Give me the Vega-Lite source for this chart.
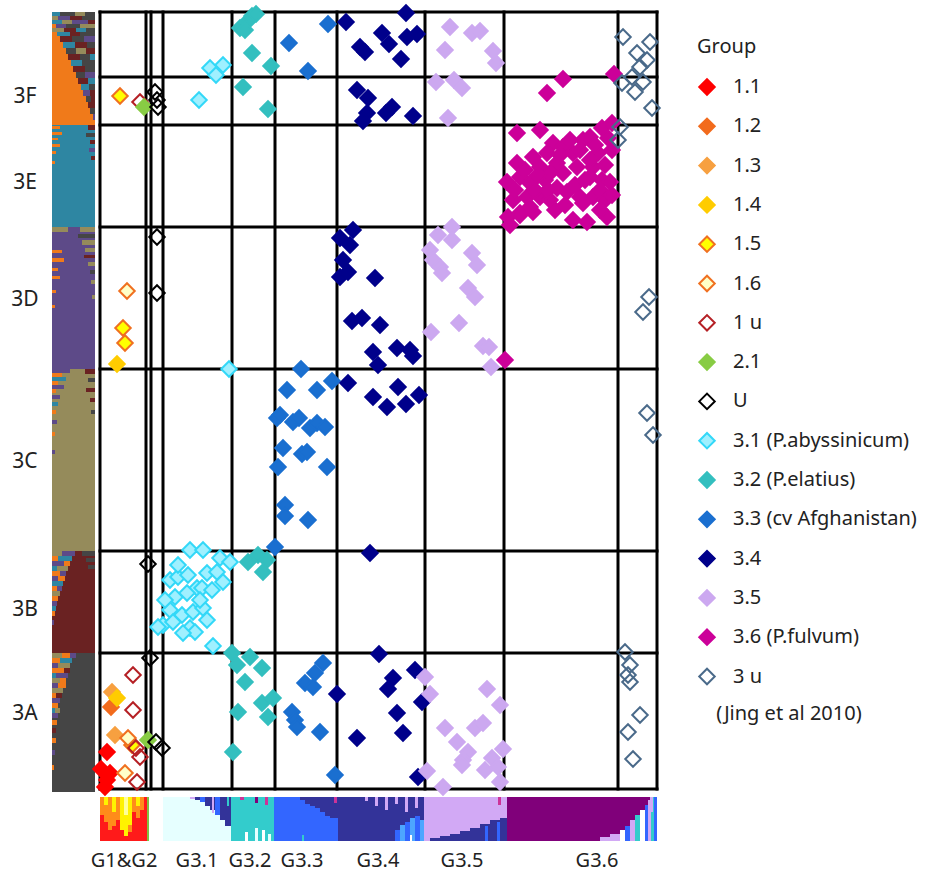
{
"$schema":"https://vega.github.io/schema/vega-lite/v6.json",
"width":690,"height":875,
"autosize":{"type":"none"},
"padding":{"left":0,"top":0,"right":246,"bottom":0},
"background":"white",
"config":{"view":{"stroke":null},"font":"Noto Sans"},
"encoding":{
"x":{"field":"x","type":"quantitative","scale":{"domain":[0,690],"nice":false,"zero":false},"axis":null},
"y":{"field":"y","type":"quantitative","scale":{"domain":[0,875],"reverse":true,"nice":false,"zero":false},"axis":null}
},
"layer":[
{
"data":{"values":[
{"x":52,"x2":60,"y":12,"y2":16,"k":"te"},{"x":60,"x2":75,"y":12,"y2":16,"k":"gr"},{"x":75,"x2":85,"y":12,"y2":16,"k":"ol"},{"x":85,"x2":95,"y":12,"y2":16,"k":"gr"},
{"x":52,"x2":58,"y":16,"y2":20,"k":"ol"},{"x":58,"x2":70,"y":16,"y2":20,"k":"pu"},{"x":70,"x2":82,"y":16,"y2":20,"k":"ma"},{"x":82,"x2":95,"y":16,"y2":20,"k":"gr"},
{"x":52,"x2":62,"y":20,"y2":24,"k":"te"},{"x":62,"x2":72,"y":20,"y2":24,"k":"ol"},{"x":72,"x2":88,"y":20,"y2":24,"k":"pu"},{"x":88,"x2":95,"y":20,"y2":24,"k":"ma"},
{"x":52,"x2":56,"y":24,"y2":28,"k":"or"},{"x":56,"x2":66,"y":24,"y2":28,"k":"pu"},{"x":66,"x2":80,"y":24,"y2":28,"k":"gr"},{"x":80,"x2":95,"y":24,"y2":28,"k":"ol"},
{"x":52,"x2":64,"y":28,"y2":32,"k":"ol"},{"x":64,"x2":76,"y":28,"y2":32,"k":"ma"},{"x":76,"x2":86,"y":28,"y2":32,"k":"te"},{"x":86,"x2":95,"y":28,"y2":32,"k":"gr"},
{"x":52,"x2":57,"y":32,"y2":36,"k":"or"},{"x":57,"x2":70,"y":32,"y2":36,"k":"te"},{"x":70,"x2":80,"y":32,"y2":36,"k":"ma"},{"x":80,"x2":95,"y":32,"y2":36,"k":"gr"},
{"x":52,"x2":60,"y":36,"y2":42,"k":"or"},{"x":60,"x2":72,"y":36,"y2":42,"k":"ma"},{"x":72,"x2":84,"y":36,"y2":42,"k":"gr"},{"x":84,"x2":95,"y":36,"y2":42,"k":"pu"},
{"x":52,"x2":63,"y":42,"y2":48,"k":"or"},{"x":63,"x2":75,"y":42,"y2":48,"k":"te"},{"x":75,"x2":87,"y":42,"y2":48,"k":"ma"},{"x":87,"x2":95,"y":42,"y2":48,"k":"gr"},
{"x":52,"x2":66,"y":48,"y2":54,"k":"or"},{"x":66,"x2":76,"y":48,"y2":54,"k":"gr"},{"x":76,"x2":86,"y":48,"y2":54,"k":"ol"},{"x":86,"x2":95,"y":48,"y2":54,"k":"ma"},
{"x":52,"x2":68,"y":54,"y2":60,"k":"or"},{"x":68,"x2":80,"y":54,"y2":60,"k":"ma"},{"x":80,"x2":90,"y":54,"y2":60,"k":"gr"},{"x":90,"x2":95,"y":54,"y2":60,"k":"te"},
{"x":52,"x2":71,"y":60,"y2":66,"k":"or"},{"x":71,"x2":82,"y":60,"y2":66,"k":"te"},{"x":82,"x2":95,"y":60,"y2":66,"k":"gr"},
{"x":52,"x2":73,"y":66,"y2":72,"k":"or"},{"x":73,"x2":85,"y":66,"y2":72,"k":"ma"},{"x":85,"x2":95,"y":66,"y2":72,"k":"gr"},
{"x":52,"x2":76,"y":72,"y2":78,"k":"or"},{"x":76,"x2":85,"y":72,"y2":78,"k":"gr"},{"x":85,"x2":95,"y":72,"y2":78,"k":"pu"},
{"x":52,"x2":78,"y":78,"y2":84,"k":"or"},{"x":78,"x2":88,"y":78,"y2":84,"k":"ma"},{"x":88,"x2":95,"y":78,"y2":84,"k":"te"},
{"x":52,"x2":81,"y":84,"y2":90,"k":"or"},{"x":81,"x2":89,"y":84,"y2":90,"k":"te"},{"x":89,"x2":95,"y":84,"y2":90,"k":"gr"},
{"x":52,"x2":83,"y":90,"y2":96,"k":"or"},{"x":83,"x2":90,"y":90,"y2":96,"k":"pu"},{"x":90,"x2":95,"y":90,"y2":96,"k":"ma"},
{"x":52,"x2":86,"y":96,"y2":102,"k":"or"},{"x":86,"x2":91,"y":96,"y2":102,"k":"gr"},{"x":91,"x2":95,"y":96,"y2":102,"k":"ma"},
{"x":52,"x2":88,"y":102,"y2":108,"k":"or"},{"x":88,"x2":95,"y":102,"y2":108,"k":"ma"},
{"x":52,"x2":90,"y":108,"y2":114,"k":"or"},{"x":90,"x2":95,"y":108,"y2":114,"k":"gr"},
{"x":52,"x2":93,"y":114,"y2":120,"k":"or"},{"x":93,"x2":95,"y":114,"y2":120,"k":"pu"},
{"x":52,"x2":95,"y":120,"y2":125,"k":"or"},
{"x":52,"x2":95,"y":125,"y2":227,"k":"te"},
{"x":52,"x2":60,"y":126,"y2":129,"k":"or"},{"x":52,"x2":62,"y":132,"y2":135,"k":"or"},{"x":52,"x2":58,"y":138,"y2":140,"k":"or"},{"x":52,"x2":60,"y":144,"y2":147,"k":"or"},{"x":52,"x2":56,"y":151,"y2":154,"k":"or"},{"x":52,"x2":55,"y":161,"y2":164,"k":"or"},
{"x":88,"x2":95,"y":125,"y2":130,"k":"ma"},{"x":86,"x2":95,"y":133,"y2":137,"k":"gr"},{"x":90,"x2":95,"y":140,"y2":144,"k":"ma"},{"x":89,"x2":95,"y":148,"y2":152,"k":"pu"},{"x":91,"x2":95,"y":156,"y2":160,"k":"ma"},
{"x":52,"x2":95,"y":227,"y2":369,"k":"pu"},
{"x":52,"x2":68,"y":227,"y2":232,"k":"ol"},{"x":80,"x2":95,"y":227,"y2":232,"k":"ol"},{"x":78,"x2":95,"y":234,"y2":238,"k":"gr"},{"x":82,"x2":95,"y":240,"y2":245,"k":"ol"},{"x":85,"x2":95,"y":248,"y2":252,"k":"ol"},{"x":84,"x2":95,"y":255,"y2":258,"k":"ma"},{"x":88,"x2":95,"y":262,"y2":266,"k":"ol"},{"x":90,"x2":95,"y":270,"y2":274,"k":"gr"},{"x":91,"x2":95,"y":280,"y2":284,"k":"ol"},{"x":92,"x2":95,"y":295,"y2":299,"k":"ol"},
{"x":52,"x2":62,"y":250,"y2":253,"k":"or"},{"x":52,"x2":64,"y":258,"y2":262,"k":"or"},{"x":52,"x2":58,"y":268,"y2":271,"k":"or"},{"x":52,"x2":60,"y":276,"y2":279,"k":"or"},{"x":52,"x2":56,"y":290,"y2":293,"k":"or"},{"x":52,"x2":55,"y":305,"y2":308,"k":"or"},
{"x":52,"x2":95,"y":369,"y2":551,"k":"ol"},
{"x":52,"x2":70,"y":369,"y2":373,"k":"pu"},{"x":52,"x2":62,"y":373,"y2":377,"k":"or"},{"x":52,"x2":66,"y":377,"y2":381,"k":"te"},{"x":52,"x2":58,"y":381,"y2":385,"k":"or"},{"x":52,"x2":64,"y":385,"y2":389,"k":"pu"},{"x":52,"x2":56,"y":389,"y2":393,"k":"or"},{"x":52,"x2":60,"y":395,"y2":399,"k":"pu"},{"x":52,"x2":58,"y":402,"y2":406,"k":"te"},{"x":52,"x2":56,"y":410,"y2":414,"k":"or"},{"x":52,"x2":57,"y":420,"y2":424,"k":"pu"},{"x":52,"x2":55,"y":432,"y2":436,"k":"or"},{"x":52,"x2":55,"y":450,"y2":454,"k":"pu"},
{"x":85,"x2":95,"y":369,"y2":374,"k":"ma"},{"x":88,"x2":95,"y":378,"y2":382,"k":"gr"},{"x":86,"x2":95,"y":388,"y2":392,"k":"ma"},{"x":90,"x2":95,"y":398,"y2":402,"k":"ma"},{"x":91,"x2":95,"y":410,"y2":414,"k":"gr"},
{"x":52,"x2":95,"y":551,"y2":653,"k":"ma"},
{"x":52,"x2":62,"y":551,"y2":556,"k":"ol"},{"x":62,"x2":75,"y":551,"y2":556,"k":"pu"},{"x":52,"x2":58,"y":556,"y2":561,"k":"or"},{"x":58,"x2":72,"y":556,"y2":561,"k":"te"},{"x":52,"x2":64,"y":561,"y2":566,"k":"pu"},{"x":64,"x2":70,"y":561,"y2":566,"k":"or"},{"x":52,"x2":57,"y":566,"y2":571,"k":"te"},{"x":57,"x2":68,"y":566,"y2":571,"k":"ol"},{"x":52,"x2":60,"y":571,"y2":576,"k":"or"},{"x":60,"x2":66,"y":571,"y2":576,"k":"pu"},{"x":52,"x2":58,"y":576,"y2":581,"k":"pu"},{"x":58,"x2":65,"y":576,"y2":581,"k":"or"},{"x":52,"x2":63,"y":581,"y2":586,"k":"te"},{"x":52,"x2":57,"y":586,"y2":591,"k":"or"},{"x":57,"x2":62,"y":586,"y2":591,"k":"pu"},{"x":52,"x2":60,"y":591,"y2":596,"k":"ol"},{"x":52,"x2":58,"y":596,"y2":601,"k":"or"},{"x":52,"x2":57,"y":601,"y2":606,"k":"pu"},{"x":52,"x2":56,"y":606,"y2":611,"k":"te"},{"x":52,"x2":55,"y":611,"y2":616,"k":"or"},{"x":52,"x2":54,"y":620,"y2":625,"k":"pu"},
{"x":82,"x2":95,"y":551,"y2":556,"k":"gr"},{"x":86,"x2":95,"y":558,"y2":562,"k":"gr"},{"x":88,"x2":95,"y":565,"y2":569,"k":"gr"},
{"x":52,"x2":95,"y":653,"y2":792,"k":"gr"},
{"x":52,"x2":62,"y":653,"y2":658,"k":"ol"},{"x":62,"x2":70,"y":653,"y2":658,"k":"or"},{"x":70,"x2":76,"y":653,"y2":658,"k":"pu"},{"x":52,"x2":60,"y":658,"y2":663,"k":"or"},{"x":60,"x2":72,"y":658,"y2":663,"k":"te"},{"x":52,"x2":58,"y":663,"y2":668,"k":"pu"},{"x":58,"x2":70,"y":663,"y2":668,"k":"ol"},{"x":52,"x2":64,"y":668,"y2":673,"k":"or"},{"x":64,"x2":70,"y":668,"y2":673,"k":"ma"},{"x":52,"x2":56,"y":673,"y2":678,"k":"te"},{"x":56,"x2":68,"y":673,"y2":678,"k":"pu"},{"x":52,"x2":60,"y":678,"y2":683,"k":"ol"},{"x":60,"x2":66,"y":678,"y2":683,"k":"or"},{"x":52,"x2":58,"y":683,"y2":688,"k":"pu"},{"x":58,"x2":66,"y":683,"y2":688,"k":"or"},{"x":52,"x2":63,"y":688,"y2":693,"k":"ol"},{"x":52,"x2":56,"y":693,"y2":698,"k":"or"},{"x":56,"x2":62,"y":693,"y2":698,"k":"ma"},{"x":52,"x2":60,"y":698,"y2":703,"k":"pu"},{"x":52,"x2":58,"y":703,"y2":708,"k":"or"},{"x":52,"x2":55,"y":708,"y2":713,"k":"te"},{"x":55,"x2":60,"y":708,"y2":713,"k":"ol"},{"x":52,"x2":58,"y":713,"y2":718,"k":"pu"},{"x":52,"x2":57,"y":720,"y2":725,"k":"or"},{"x":52,"x2":56,"y":728,"y2":733,"k":"ma"},{"x":52,"x2":56,"y":738,"y2":743,"k":"or"},{"x":52,"x2":55,"y":750,"y2":755,"k":"pu"},{"x":52,"x2":54,"y":765,"y2":770,"k":"or"},
{"x":100,"x2":149,"y":797,"y2":841,"k":"red"},
{"x":100,"x2":104,"y":797,"y2":815,"k":"ora"},{"x":104,"x2":108,"y":797,"y2":805,"k":"yel"},{"x":104,"x2":108,"y":805,"y2":822,"k":"ora"},{"x":108,"x2":112,"y":797,"y2":830,"k":"ora"},{"x":112,"x2":116,"y":797,"y2":812,"k":"yel"},{"x":112,"x2":116,"y":812,"y2":826,"k":"ora"},{"x":116,"x2":120,"y":797,"y2":820,"k":"ora"},{"x":120,"x2":124,"y":797,"y2":830,"k":"yel"},{"x":124,"x2":128,"y":797,"y2":815,"k":"lyel"},{"x":124,"x2":128,"y":815,"y2":836,"k":"yel"},{"x":128,"x2":132,"y":797,"y2":825,"k":"yel"},{"x":128,"x2":132,"y":825,"y2":832,"k":"ora"},{"x":132,"x2":136,"y":797,"y2":812,"k":"ora"},{"x":136,"x2":140,"y":797,"y2":806,"k":"yel"},{"x":136,"x2":140,"y":806,"y2":818,"k":"ora"},{"x":140,"x2":144,"y":797,"y2":810,"k":"ora"},{"x":147,"x2":149,"y":797,"y2":841,"k":"gn"},
{"x":163,"x2":231,"y":797,"y2":841,"k":"cy"},
{"x":190,"x2":195,"y":797,"y2":799,"k":"lp"},{"x":195,"x2":200,"y":797,"y2":800,"k":"nv"},{"x":200,"x2":205,"y":797,"y2":802,"k":"bl"},{"x":205,"x2":210,"y":797,"y2":806,"k":"nv"},{"x":210,"x2":215,"y":797,"y2":810,"k":"nv"},{"x":212,"x2":214,"y":797,"y2":813,"k":"lp"},{"x":215,"x2":220,"y":797,"y2":815,"k":"bl"},{"x":220,"x2":225,"y":797,"y2":820,"k":"nv"},{"x":225,"x2":231,"y":797,"y2":826,"k":"nv"},{"x":227,"x2":229,"y":797,"y2":806,"k":"tq"},
{"x":231,"x2":274,"y":797,"y2":841,"k":"tq"},
{"x":240,"x2":244,"y":797,"y2":800,"k":"mg"},{"x":255,"x2":258,"y":797,"y2":803,"k":"pm"},{"x":265,"x2":268,"y":797,"y2":805,"k":"mg"},{"x":245,"x2":248,"y":832,"y2":841,"k":"wh"},{"x":255,"x2":258,"y":828,"y2":841,"k":"cy"},{"x":262,"x2":265,"y":830,"y2":841,"k":"wh"},{"x":268,"x2":271,"y":834,"y2":841,"k":"cy"},
{"x":274,"x2":338,"y":797,"y2":841,"k":"bl"},
{"x":300,"x2":305,"y":797,"y2":800,"k":"nv"},{"x":305,"x2":310,"y":797,"y2":804,"k":"nv"},{"x":310,"x2":315,"y":797,"y2":806,"k":"nv"},{"x":315,"x2":320,"y":797,"y2":808,"k":"nv"},{"x":320,"x2":325,"y":797,"y2":812,"k":"nv"},{"x":325,"x2":330,"y":797,"y2":816,"k":"nv"},{"x":330,"x2":338,"y":797,"y2":818,"k":"nv"},{"x":334,"x2":337,"y":797,"y2":803,"k":"mg"},{"x":302,"x2":304,"y":835,"y2":841,"k":"tq"},
{"x":338,"x2":424,"y":797,"y2":841,"k":"nv"},
{"x":365,"x2":368,"y":797,"y2":801,"k":"lp"},{"x":375,"x2":378,"y":797,"y2":806,"k":"lp"},{"x":385,"x2":388,"y":797,"y2":810,"k":"lp"},{"x":395,"x2":398,"y":797,"y2":804,"k":"lp"},{"x":405,"x2":408,"y":797,"y2":812,"k":"lp"},{"x":415,"x2":418,"y":797,"y2":808,"k":"lp"},{"x":395,"x2":400,"y":830,"y2":841,"k":"bl"},{"x":400,"x2":405,"y":825,"y2":841,"k":"lb"},{"x":405,"x2":410,"y":822,"y2":841,"k":"bl"},{"x":410,"x2":415,"y":818,"y2":841,"k":"lb"},{"x":415,"x2":420,"y":816,"y2":841,"k":"bl"},{"x":420,"x2":424,"y":820,"y2":841,"k":"lb"},{"x":410,"x2":412,"y":835,"y2":841,"k":"wh"},
{"x":424,"x2":507,"y":797,"y2":841,"k":"lp"},
{"x":430,"x2":440,"y":838,"y2":841,"k":"nv"},{"x":440,"x2":450,"y":836,"y2":841,"k":"nv"},{"x":450,"x2":460,"y":834,"y2":841,"k":"nv"},{"x":460,"x2":470,"y":831,"y2":841,"k":"nv"},{"x":470,"x2":480,"y":828,"y2":841,"k":"nv"},{"x":480,"x2":490,"y":824,"y2":841,"k":"nv"},{"x":490,"x2":500,"y":820,"y2":841,"k":"nv"},{"x":500,"x2":507,"y":818,"y2":841,"k":"nv"},{"x":485,"x2":488,"y":826,"y2":841,"k":"bl"},{"x":497,"x2":500,"y":822,"y2":841,"k":"bl"},{"x":498,"x2":501,"y":797,"y2":805,"k":"mg"},
{"x":507,"x2":657,"y":797,"y2":841,"k":"pm"},
{"x":600,"x2":610,"y":837,"y2":841,"k":"lp"},{"x":610,"x2":620,"y":834,"y2":841,"k":"lp"},{"x":620,"x2":625,"y":830,"y2":841,"k":"wh"},{"x":625,"x2":630,"y":826,"y2":841,"k":"bl"},{"x":630,"x2":635,"y":820,"y2":841,"k":"lp"},{"x":635,"x2":640,"y":815,"y2":841,"k":"tq"},{"x":640,"x2":645,"y":810,"y2":841,"k":"wh"},{"x":645,"x2":648,"y":805,"y2":841,"k":"bl"},{"x":648,"x2":651,"y":800,"y2":841,"k":"lp"},{"x":651,"x2":654,"y":797,"y2":841,"k":"tq"},{"x":654,"x2":657,"y":797,"y2":841,"k":"bl"},{"x":650,"x2":653,"y":797,"y2":812,"k":"lp"}
]},
"mark":{"type":"rect","strokeWidth":0},
"encoding":{
"x2":{"field":"x2"},"y2":{"field":"y2"},
"color":{"field":"k","type":"nominal","legend":null,"scale":{
"domain":["or","te","pu","ol","ma","gr","red","yel","ora","lyel","gn","cy","tq","bl","nv","lp","pm","mg","wh","lb"],
"range":["#F07A1A","#2E86A2","#5D4A88","#958B5B","#6A2222","#454545","#FF1A1A","#FFF200","#FF8C1A","#FFFF99","#7DC242","#E6FFFF","#33CCCC","#3366FF","#333399","#D2A9F5","#80007A","#CC3399","#FFFFFF","#4DA6FF"]}}
}
},
{
"data":{"values":[
{"x":100,"x2":100,"y":12,"y2":789},{"x":146,"x2":146,"y":12,"y2":789},{"x":151,"x2":151,"y":12,"y2":789},{"x":163,"x2":163,"y":12,"y2":789},{"x":232,"x2":232,"y":12,"y2":789},{"x":275,"x2":275,"y":12,"y2":789},{"x":337,"x2":337,"y":12,"y2":789},{"x":425,"x2":425,"y":12,"y2":789},{"x":504,"x2":504,"y":12,"y2":789},{"x":618,"x2":618,"y":12,"y2":789},{"x":657,"x2":657,"y":12,"y2":789},
{"x":100,"x2":657,"y":12,"y2":12},{"x":100,"x2":657,"y":77,"y2":77},{"x":100,"x2":657,"y":125,"y2":125},{"x":100,"x2":657,"y":227,"y2":227},{"x":100,"x2":657,"y":369,"y2":369},{"x":100,"x2":657,"y":551,"y2":551},{"x":100,"x2":657,"y":653,"y2":653},{"x":100,"x2":657,"y":789,"y2":789}
]},
"mark":{"type":"rule","color":"#000000","strokeWidth":3,"strokeCap":"square"},
"encoding":{"x2":{"field":"x2"},"y2":{"field":"y2"}}
},
{
"data":{"values":[
{"g":"1.1","x":107,"y":752},{"g":"1.1","x":101,"y":769},{"g":"1.1","x":110,"y":773},{"g":"1.1","x":107,"y":780},{"g":"1.1","x":105,"y":787},
{"g":"1.2","x":111,"y":707},
{"g":"1.3","x":112,"y":692},{"g":"1.3","x":115,"y":735},
{"g":"1.4","x":117,"y":364},{"g":"1.4","x":117,"y":698},
{"g":"1.5","x":120,"y":96},{"g":"1.5","x":123,"y":328},{"g":"1.5","x":125,"y":343},{"g":"1.5","x":132,"y":745},
{"g":"1.6","x":127,"y":291},{"g":"1.6","x":128,"y":738},{"g":"1.6","x":125,"y":773},
{"g":"1 u","x":140,"y":102},{"g":"1 u","x":133,"y":675},{"g":"1 u","x":133,"y":710},{"g":"1 u","x":140,"y":757},{"g":"1 u","x":137,"y":782},{"g":"1 u","x":136,"y":748},
{"g":"2.1","x":144,"y":107},{"g":"2.1","x":148,"y":740},
{"g":"U","x":155,"y":92},{"g":"U","x":157,"y":100},{"g":"U","x":158,"y":107},{"g":"U","x":157,"y":237},{"g":"U","x":157,"y":293},{"g":"U","x":148,"y":564},{"g":"U","x":150,"y":658},{"g":"U","x":156,"y":742},{"g":"U","x":162,"y":748},
{"g":"3.1","x":210,"y":68},{"g":"3.1","x":223,"y":65},{"g":"3.1","x":216,"y":75},{"g":"3.1","x":199,"y":100},{"g":"3.1","x":229,"y":369},
{"g":"3.1","x":190,"y":550},{"g":"3.1","x":203,"y":550},{"g":"3.1","x":220,"y":558},{"g":"3.1","x":230,"y":562},{"g":"3.1","x":170,"y":580},{"g":"3.1","x":178,"y":577},{"g":"3.1","x":188,"y":575},{"g":"3.1","x":207,"y":573},{"g":"3.1","x":217,"y":572},{"g":"3.1","x":223,"y":582},{"g":"3.1","x":197,"y":588},{"g":"3.1","x":202,"y":588},{"g":"3.1","x":175,"y":597},{"g":"3.1","x":187,"y":593},{"g":"3.1","x":170,"y":610},{"g":"3.1","x":182,"y":615},{"g":"3.1","x":193,"y":612},{"g":"3.1","x":203,"y":608},{"g":"3.1","x":163,"y":625},{"g":"3.1","x":173,"y":622},{"g":"3.1","x":190,"y":628},{"g":"3.1","x":195,"y":632},{"g":"3.1","x":207,"y":620},{"g":"3.1","x":183,"y":633},{"g":"3.1","x":213,"y":646},{"g":"3.1","x":158,"y":627},{"g":"3.1","x":178,"y":565},{"g":"3.1","x":212,"y":590},{"g":"3.1","x":165,"y":600},{"g":"3.1","x":200,"y":600},
{"g":"3.2","x":240,"y":28},{"g":"3.2","x":247,"y":22},{"g":"3.2","x":252,"y":16},{"g":"3.2","x":256,"y":14},{"g":"3.2","x":245,"y":30},{"g":"3.2","x":252,"y":53},{"g":"3.2","x":271,"y":66},{"g":"3.2","x":243,"y":87},{"g":"3.2","x":268,"y":109},{"g":"3.2","x":248,"y":562},{"g":"3.2","x":258,"y":555},{"g":"3.2","x":267,"y":560},{"g":"3.2","x":263,"y":572},{"g":"3.2","x":232,"y":653},{"g":"3.2","x":237,"y":665},{"g":"3.2","x":250,"y":657},{"g":"3.2","x":262,"y":668},{"g":"3.2","x":245,"y":682},{"g":"3.2","x":262,"y":703},{"g":"3.2","x":273,"y":698},{"g":"3.2","x":238,"y":712},{"g":"3.2","x":268,"y":717},{"g":"3.2","x":233,"y":752},
{"g":"3.3","x":289,"y":43},{"g":"3.3","x":308,"y":71},{"g":"3.3","x":328,"y":24},{"g":"3.3","x":301,"y":369},{"g":"3.3","x":332,"y":381},{"g":"3.3","x":287,"y":390},{"g":"3.3","x":317,"y":390},{"g":"3.3","x":277,"y":418},{"g":"3.3","x":280,"y":415},{"g":"3.3","x":293,"y":422},{"g":"3.3","x":299,"y":418},{"g":"3.3","x":310,"y":428},{"g":"3.3","x":317,"y":423},{"g":"3.3","x":325,"y":427},{"g":"3.3","x":283,"y":448},{"g":"3.3","x":302,"y":454},{"g":"3.3","x":307,"y":452},{"g":"3.3","x":327,"y":467},{"g":"3.3","x":278,"y":467},{"g":"3.3","x":285,"y":505},{"g":"3.3","x":285,"y":516},{"g":"3.3","x":308,"y":520},{"g":"3.3","x":275,"y":547},{"g":"3.3","x":323,"y":663},{"g":"3.3","x":315,"y":673},{"g":"3.3","x":305,"y":683},{"g":"3.3","x":313,"y":687},{"g":"3.3","x":292,"y":712},{"g":"3.3","x":295,"y":720},{"g":"3.3","x":297,"y":727},{"g":"3.3","x":320,"y":732},{"g":"3.3","x":335,"y":775},
{"g":"3.4","x":346,"y":22},{"g":"3.4","x":406,"y":13},{"g":"3.4","x":382,"y":33},{"g":"3.4","x":360,"y":47},{"g":"3.4","x":365,"y":52},{"g":"3.4","x":389,"y":44},{"g":"3.4","x":407,"y":37},{"g":"3.4","x":417,"y":34},{"g":"3.4","x":401,"y":59},{"g":"3.4","x":357,"y":90},{"g":"3.4","x":368,"y":98},{"g":"3.4","x":367,"y":113},{"g":"3.4","x":363,"y":121},{"g":"3.4","x":386,"y":113},{"g":"3.4","x":392,"y":107},{"g":"3.4","x":413,"y":116},{"g":"3.4","x":353,"y":230},{"g":"3.4","x":340,"y":238},{"g":"3.4","x":350,"y":245},{"g":"3.4","x":343,"y":260},{"g":"3.4","x":340,"y":277},{"g":"3.4","x":348,"y":272},{"g":"3.4","x":375,"y":278},{"g":"3.4","x":352,"y":321},{"g":"3.4","x":362,"y":318},{"g":"3.4","x":380,"y":325},{"g":"3.4","x":373,"y":352},{"g":"3.4","x":378,"y":365},{"g":"3.4","x":397,"y":348},{"g":"3.4","x":410,"y":350},{"g":"3.4","x":413,"y":356},{"g":"3.4","x":348,"y":383},{"g":"3.4","x":373,"y":397},{"g":"3.4","x":398,"y":387},{"g":"3.4","x":387,"y":407},{"g":"3.4","x":406,"y":404},{"g":"3.4","x":419,"y":395},{"g":"3.4","x":370,"y":553},{"g":"3.4","x":379,"y":654},{"g":"3.4","x":415,"y":670},{"g":"3.4","x":393,"y":678},{"g":"3.4","x":388,"y":689},{"g":"3.4","x":337,"y":694},{"g":"3.4","x":422,"y":702},{"g":"3.4","x":397,"y":713},{"g":"3.4","x":403,"y":733},{"g":"3.4","x":357,"y":738},{"g":"3.4","x":418,"y":777},
{"g":"3.5","x":450,"y":27},{"g":"3.5","x":472,"y":33},{"g":"3.5","x":480,"y":31},{"g":"3.5","x":445,"y":50},{"g":"3.5","x":493,"y":51},{"g":"3.5","x":496,"y":63},{"g":"3.5","x":436,"y":82},{"g":"3.5","x":454,"y":80},{"g":"3.5","x":462,"y":88},{"g":"3.5","x":448,"y":118},{"g":"3.5","x":452,"y":227},{"g":"3.5","x":438,"y":235},{"g":"3.5","x":452,"y":240},{"g":"3.5","x":430,"y":250},{"g":"3.5","x":433,"y":260},{"g":"3.5","x":440,"y":267},{"g":"3.5","x":442,"y":273},{"g":"3.5","x":472,"y":253},{"g":"3.5","x":477,"y":265},{"g":"3.5","x":468,"y":288},{"g":"3.5","x":475,"y":297},{"g":"3.5","x":431,"y":332},{"g":"3.5","x":459,"y":323},{"g":"3.5","x":483,"y":346},{"g":"3.5","x":489,"y":347},{"g":"3.5","x":491,"y":367},{"g":"3.5","x":425,"y":677},{"g":"3.5","x":430,"y":694},{"g":"3.5","x":487,"y":689},{"g":"3.5","x":500,"y":705},{"g":"3.5","x":445,"y":728},{"g":"3.5","x":457,"y":742},{"g":"3.5","x":475,"y":728},{"g":"3.5","x":483,"y":723},{"g":"3.5","x":468,"y":752},{"g":"3.5","x":463,"y":760},{"g":"3.5","x":462,"y":765},{"g":"3.5","x":492,"y":758},{"g":"3.5","x":498,"y":767},{"g":"3.5","x":503,"y":749},{"g":"3.5","x":485,"y":770},{"g":"3.5","x":427,"y":771},{"g":"3.5","x":500,"y":782},{"g":"3.5","x":443,"y":787},
{"g":"3.6","x":563,"y":79},{"g":"3.6","x":547,"y":93},{"g":"3.6","x":614,"y":74},{"g":"3.6","x":505,"y":360},
{"g":"3.6","x":517,"y":133},{"g":"3.6","x":540,"y":130},{"g":"3.6","x":553,"y":143},{"g":"3.6","x":563,"y":147},{"g":"3.6","x":573,"y":153},{"g":"3.6","x":583,"y":140},{"g":"3.6","x":590,"y":137},{"g":"3.6","x":602,"y":128},{"g":"3.6","x":612,"y":123},{"g":"3.6","x":598,"y":153},{"g":"3.6","x":517,"y":163},{"g":"3.6","x":533,"y":157},{"g":"3.6","x":547,"y":153},{"g":"3.6","x":540,"y":167},{"g":"3.6","x":557,"y":163},{"g":"3.6","x":563,"y":173},{"g":"3.6","x":577,"y":167},{"g":"3.6","x":593,"y":167},{"g":"3.6","x":605,"y":165},{"g":"3.6","x":507,"y":182},{"g":"3.6","x":520,"y":177},{"g":"3.6","x":530,"y":183},{"g":"3.6","x":545,"y":180},{"g":"3.6","x":557,"y":188},{"g":"3.6","x":567,"y":192},{"g":"3.6","x":602,"y":180},{"g":"3.6","x":610,"y":182},{"g":"3.6","x":513,"y":200},{"g":"3.6","x":527,"y":197},{"g":"3.6","x":540,"y":197},{"g":"3.6","x":550,"y":200},{"g":"3.6","x":580,"y":197},{"g":"3.6","x":593,"y":197},{"g":"3.6","x":605,"y":200},{"g":"3.6","x":508,"y":217},{"g":"3.6","x":520,"y":213},{"g":"3.6","x":533,"y":212},{"g":"3.6","x":573,"y":220},{"g":"3.6","x":587,"y":222},{"g":"3.6","x":607,"y":217},{"g":"3.6","x":510,"y":225},{"g":"3.6","x":530,"y":207},{"g":"3.6","x":583,"y":203},{"g":"3.6","x":550,"y":173},{"g":"3.6","x":590,"y":177},
{"g":"3.6","x":525,"y":170},{"g":"3.6","x":535,"y":190},{"g":"3.6","x":560,"y":155},{"g":"3.6","x":570,"y":140},{"g":"3.6","x":580,"y":150},{"g":"3.6","x":595,"y":145},{"g":"3.6","x":608,"y":138},{"g":"3.6","x":515,"y":190},{"g":"3.6","x":555,"y":210},{"g":"3.6","x":565,"y":205},{"g":"3.6","x":575,"y":185},{"g":"3.6","x":585,"y":180},{"g":"3.6","x":600,"y":190},{"g":"3.6","x":612,"y":195},{"g":"3.6","x":548,"y":190},{"g":"3.6","x":538,"y":175},{"g":"3.6","x":520,"y":215},{"g":"3.6","x":600,"y":210},{"g":"3.6","x":590,"y":160},{"g":"3.6","x":612,"y":150},
{"g":"3 u","x":623,"y":37},{"g":"3 u","x":650,"y":42},{"g":"3 u","x":637,"y":53},{"g":"3 u","x":647,"y":60},{"g":"3 u","x":640,"y":67},{"g":"3 u","x":632,"y":77},{"g":"3 u","x":622,"y":83},{"g":"3 u","x":643,"y":82},{"g":"3 u","x":635,"y":92},{"g":"3 u","x":652,"y":108},{"g":"3 u","x":620,"y":127},{"g":"3 u","x":618,"y":140},{"g":"3 u","x":649,"y":297},{"g":"3 u","x":643,"y":312},{"g":"3 u","x":647,"y":413},{"g":"3 u","x":653,"y":435},{"g":"3 u","x":625,"y":652},{"g":"3 u","x":630,"y":665},{"g":"3 u","x":628,"y":675},{"g":"3 u","x":630,"y":682},{"g":"3 u","x":640,"y":715},{"g":"3 u","x":628,"y":732},{"g":"3 u","x":633,"y":759}
]},
"mark":{"type":"point","shape":"diamond","filled":true,"opacity":1,"strokeWidth":2},
"encoding":{
"fill":{"field":"g","type":"nominal","scale":{
"domain":["1.1","1.2","1.3","1.4","1.5","1.6","1 u","2.1","U","3.1","3.2","3.3","3.4","3.5","3.6","3 u"],
"range":["#FF0000","#F26B1D","#F7A040","#FFCC00","#FFFF00","#FFFFC8","transparent","#88CC44","transparent","#9FF0FF","#33BFBF","#1A6FD0","#00008B","#CCA8F0","#CC0099","transparent"]},
"legend":{"title":"Group","orient":"none","legendX":697,"legendY":37,"symbolType":"diamond","labelFontSize":20,"titleFontSize":20,"titleFontWeight":"normal","titleColor":"#222222","labelColor":"#222222","rowPadding":15.3,"labelOffset":16,"titlePadding":20,"symbolStrokeWidth":2,"padding":0,"labelLimit":0,
"labelExpr":"datum.label == '3.1' ? '3.1 (P.abyssinicum)' : datum.label == '3.2' ? '3.2 (P.elatius)' : datum.label == '3.3' ? '3.3 (cv Afghanistan)' : datum.label == '3.6' ? '3.6 (P.fulvum)' : datum.label"}},
"stroke":{"field":"g","type":"nominal","scale":{
"domain":["1.1","1.2","1.3","1.4","1.5","1.6","1 u","2.1","U","3.1","3.2","3.3","3.4","3.5","3.6","3 u"],
"range":["#FF0000","#F26B1D","#F7A040","#FFCC00","#F07020","#F07020","#B52025","#88CC44","#000000","#33D8F8","#33BFBF","#1A6FD0","#00008B","#CCA8F0","#CC0099","#4A6A8A"]}},
"size":{"field":"g","type":"nominal","scale":{
"domain":["1.1","1.2","1.3","1.4","1.5","1.6","1 u","2.1","U","3.1","3.2","3.3","3.4","3.5","3.6","3 u"],
"range":[240,240,240,200,290,290,360,250,330,320,240,240,240,210,240,400]}}
}
},
{
"data":{"values":[
{"x":25,"y":97,"t":"3F"},{"x":25,"y":183,"t":"3E"},{"x":25,"y":300,"t":"3D"},{"x":25,"y":462,"t":"3C"},{"x":25,"y":610,"t":"3B"},{"x":25,"y":714,"t":"3A"}
]},
"mark":{"type":"text","fontSize":21,"align":"center","baseline":"middle","color":"#222222"},
"encoding":{"text":{"field":"t"}}
},
{
"data":{"values":[
{"x":124,"y":861,"t":"G1&G2"},{"x":197,"y":861,"t":"G3.1"},{"x":250,"y":861,"t":"G3.2"},{"x":302,"y":861,"t":"G3.3"},{"x":378,"y":861,"t":"G3.4"},{"x":462,"y":861,"t":"G3.5"},{"x":597,"y":861,"t":"G3.6"}
]},
"mark":{"type":"text","fontSize":20,"align":"center","baseline":"middle","color":"#222222"},
"encoding":{"text":{"field":"t"}}
},
{
"data":{"values":[{"x":789,"y":714,"t":"(Jing et al 2010)"}]},
"mark":{"type":"text","fontSize":20,"align":"center","baseline":"middle","color":"#222222"},
"encoding":{"text":{"field":"t"}}
}
]
}
